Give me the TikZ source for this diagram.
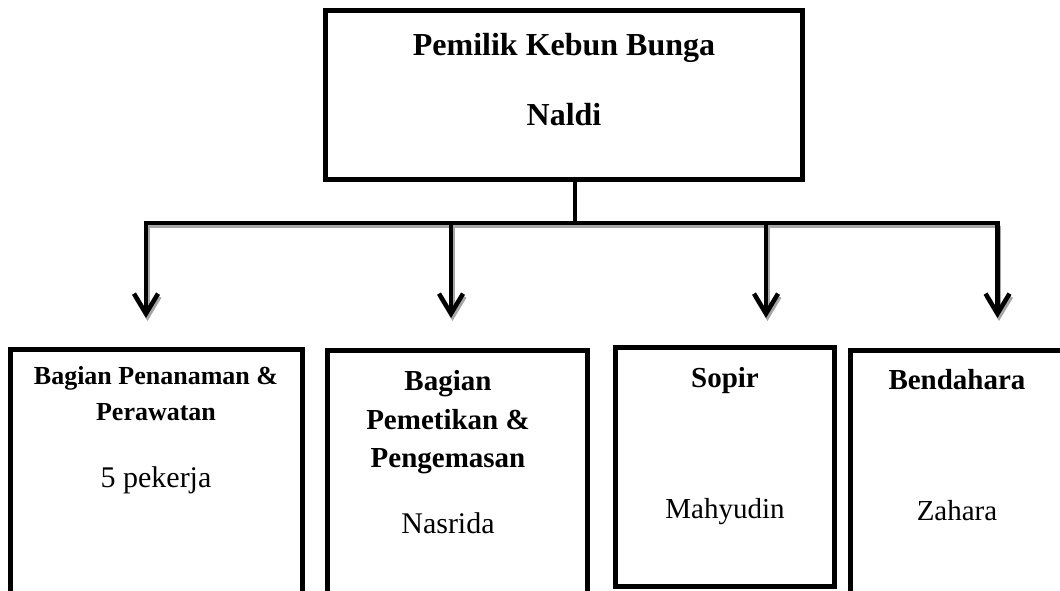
\documentclass[tikz,border=0pt]{standalone}
\usepackage{fontspec}
\setmainfont{Liberation Serif}
\usetikzlibrary{arrows.meta}
\tikzset{
  box/.style={draw=black, line width=5pt, rectangle, inner sep=0pt},
  conn/.style={draw=black, line width=4.5pt},
  arr/.style={conn, -{Straight Barb[length=20pt,width=24pt,line width=4.5pt]}},
  shade/.style={draw=black!35, line width=4.5pt},
  shadearr/.style={shade, -{Straight Barb[length=20pt,width=24pt,line width=4.5pt]}},
  txt/.style={inner sep=0pt, anchor=base},
  ttl/.style={txt, font=\fontsize{32}{38}\selectfont\bfseries},
  hdA/.style={txt, font=\fontsize{26}{31}\selectfont\bfseries},
  hd/.style={txt, font=\fontsize{29}{34}\selectfont\bfseries},
  nm/.style={txt, font=\fontsize{30}{36}\selectfont},
  nmB/.style={txt, font=\fontsize{29}{34}\selectfont},
}
\begin{document}
\begin{tikzpicture}[x=1pt,y=-1pt]
\useasboundingbox (0,0) rectangle (1060,590);
\clip (0,0) rectangle (1060,590);

% boxes
\node[box, minimum width=477pt, minimum height=169pt] (top) at (564.4,94.5) {};
\node[box, minimum width=291.7pt, minimum height=300pt] (b1) at (156.6,499) {};
\node[box, minimum width=260pt, minimum height=300pt] (b2) at (457.5,500) {};
\node[box, minimum width=219pt, minimum height=238.5pt] (b3) at (724.5,466.75) {};
\node[box, minimum width=300pt, minimum height=300pt] (b4) at (1000.5,500) {};

% junction coordinates
\coordinate (j) at (575,223);
\coordinate (jl) at (146,223);
\coordinate (jr) at (997.5,223);
\coordinate (j2) at (451,223);
\coordinate (j3) at (766,223);
\coordinate (t1) at (146,318);
\coordinate (t2) at (451,318);
\coordinate (t3) at (766,318);
\coordinate (t4) at (997.5,318);

% shadows
\begin{scope}[transform canvas={shift={(1.5pt,-3pt)}}]
  \draw[shade] (jl) -- (jr);
  \draw[shadearr] (jl) -- (t1);
  \draw[shadearr] (j2) -- (t2);
  \draw[shadearr] (j3) -- (t3);
  \draw[shadearr] (jr) -- (t4);
\end{scope}

% connectors
\draw[conn] (top.south -| j) -- (j);
\draw[conn, line cap=rect] (jl) -- (jr);
\draw[arr] (jl) -- (t1);
\draw[arr] (j2) -- (t2);
\draw[arr] (j3) -- (t3);
\draw[arr] (jr) -- (t4);

% texts
\node[ttl] (t-a) at (564,55) {Pemilik Kebun Bunga};
\node[ttl] (t-b) at (564,125) {Naldi};

\node[hdA] (l1a) at (156,384) {Bagian Penanaman \&};
\node[hdA] (l1b) at (156,420) {Perawatan};
\node[nm] (l1c) at (156,487) {5 pekerja};

\node[hd] (l2a) at (448,390) {Bagian};
\node[hd] (l2b) at (448,429) {Pemetikan \&};
\node[hd] (l2c) at (448,467) {Pengemasan};
\node[nm] (l2d) at (448,533) {Nasrida};

\node[hd] (l3a) at (725,387) {Sopir};
\node[nmB] (l3b) at (725,518) {Mahyudin};

\node[hd] (l4a) at (957,389) {Bendahara};
\node[nmB] (l4b) at (957,520) {Zahara};
\end{tikzpicture}
\end{document}
